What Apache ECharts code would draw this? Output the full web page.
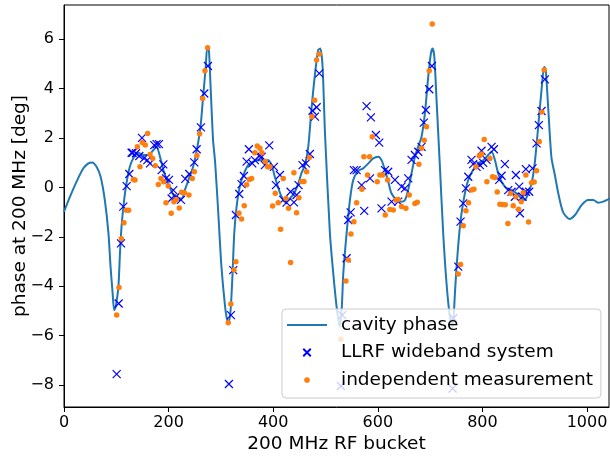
<!DOCTYPE html>
<html>
<head>
<meta charset="utf-8">
<script src="https://cdn.jsdelivr.net/npm/echarts@6/dist/echarts.min.js"></script>
<style>html,body{margin:0;padding:0;background:#fff}#c{width:610px;height:461px}</style>
</head>
<body>
<div id="c"></div>
<script>
// cavity phase curve [bucket, deg]
const cavityPhase = [[0,-0.99],[11.5,-0.38],[24,0.23],[37,0.77],[46.5,0.97],[54,1.01],[62,0.84],[70,0.43],[78,-0.51],[85,-1.86],[89,-3.21],[93,-4.29],[96,-4.97],[99,-4.83],[104,-4.02],[107,-2.67],[110,-1.59],[115,-0.51],[120,0.23],[126,0.84],[134,1.24],[142,1.4],[152,1.31],[161,1.31],[171,1.51],[177,1.64],[183.5,1.24],[190,0.7],[197.5,0.23],[206,-0.18],[215,-0.45],[225,-0.45],[231,-0.11],[238,0.3],[247,0.84],[255,1.64],[261,2.45],[266,3.67],[271,4.88],[274,5.69],[277,5.56],[280,4.21],[285,1.91],[289,1.0],[295,-1.05],[301,-3.21],[308,-4.83],[312,-5.37],[315,-5.44],[318.5,-4.97],[322,-3.62],[325.5,-1.86],[330,-0.78],[336,0.03],[343,0.5],[352,0.9],[362,1.04],[371,1.1],[381,1.1],[390.5,1.1],[397,0.9],[403,0.43],[410,-0.04],[416,-0.38],[422,-0.58],[429,-0.51],[435,-0.38],[441.5,-0.18],[448,0.16],[454,0.57],[460.6,0.9],[467,1.64],[473,3.13],[480,4.61],[486,5.56],[490,5.62],[494.4,4.88],[499,2.18],[508.4,-1.86],[514.8,-3.48],[521.2,-4.83],[527,-5.65],[531,-4.9],[534,-3.48],[540.3,-1.86],[546.7,-0.51],[553,0.3],[562.6,0.67],[572,0.77],[582,0.97],[591,1.17],[601,1.24],[607,1.1],[613.6,0.7],[620,0.23],[626,-0.24],[636,-0.51],[645,-0.58],[652,-0.51],[658,-0.11],[664.5,0.57],[671,1.24],[677,1.64],[683.6,2.05],[690,2.99],[696.4,4.48],[701.5,5.42],[704.7,5.62],[708,5.29],[712.3,3.53],[718.7,0.84],[725,-1.86],[731.4,-3.89],[737.8,-5.24],[743,-5.65],[747.4,-4.29],[750.6,-3.21],[755.7,-1.86],[760,-1.05],[766.5,-0.24],[773,0.3],[782,0.7],[792,0.97],[801.5,1.1],[811,1.31],[817.5,1.44],[824,1.1],[830,0.57],[836.6,0.23],[846,-0.04],[855.7,-0.11],[865,-0.24],[875,-0.45],[881,-0.51],[887.5,-0.24],[894,0.16],[900,0.97],[906.6,2.45],[913,3.94],[918,4.88],[921,4.75],[926,3.13],[932,1.2],[938.5,0.5],[945,-0.24],[954,-0.99],[966,-1.28],[977,-1.12],[989.5,-0.72],[1002,-0.51],[1012,-0.51],[1021,-0.62],[1031,-0.58],[1044,-0.45]];

// LLRF wideband system measurements
const llrf = [[100.7,-7.56],[104.5,-4.70],[109,-2.27],[113.4,-0.78],[119.8,0.05],[124.9,0.54],[129.3,1.40],[131.2,1.40],[137.6,1.38],[144,1.27],[149.1,2.0],[152.9,1.17],[159.3,1.1],[164.4,0.97],[172.6,1.71],[177,1.75],[181.5,1.75],[186.7,0.70],[189.9,0.93],[195,0.36],[200.7,0.3],[209,-0.11],[205.8,-0.45],[214,-0.38],[223.6,-0.51],[231.9,0.34],[239.5,0.54],[249,1.01],[253.6,1.54],[261.8,2.43],[268.2,3.80],[275.2,4.91],
[315.3,-7.96],[319.2,-5.17],[323.6,-3.35],[328.7,-1.12],[335.1,-0.27],[339.5,0.13],[344,0.46],[349.1,1.04],[353.5,1.54],[359.9,0.97],[365,1.1],[373.3,1.27],[377.8,1.24],[384.1,0.90],[392.4,1.70],[401.3,0.83],[405.2,0.09],[412.8,0.5],[419.2,-0.51],[425.5,-0.62],[433.2,-0.18],[439.6,-0.61],[444.7,-0.31],[448.5,0.09],[456.1,0.90],[462.5,0.97],[470.1,1.35],[475.2,3.10],[479.8,2.86],[483,3.24],[488,4.61],
[529.5,-8.04],[532,-5.17],[540.3,-2.87],[543.5,-1.32],[548,-1.01],[554.3,0.70],[559.4,0.70],[569,0.09],[574,-0.95],[585,0.36],[578.5,3.29],[586.8,2.83],[596.4,2.12],[602.7,1.81],[607,-0.85],[613.6,0.70],[619.9,0.63],[626.3,-0.58],[632.7,0.30],[639,-0.58],[645.4,0.03],[651.8,-0.04],[658.2,0.36],[664.5,1.11],[670.9,1.31],[677.3,1.44],[683.6,1.64],[688,2.62],[691.9,3.13],[698.3,3.97],[703.4,4.91],
[742.9,-8.14],[744.2,-5.3],[753.7,-3.21],[758.2,-1.39],[763.3,-0.65],[768.4,-0.04],[772.9,0.43],[779.2,1.11],[782.4,0.94],[788.8,0.83],[795.2,0.90],[801.5,0.99],[807.9,1.11],[817.5,1.64],[821.9,1.54],[798.3,1.48],[832.1,0.30],[836.6,0.47],[842.9,0.94],[849.3,-0.11],[855.7,-0.18],[862,-0.38],[864,0.50],[871.6,-1.05],[870.3,0.03],[876.7,-0.38],[883.1,-0.18],[883.1,0.74],[889.4,-0.18],[895.8,0.77],[903.5,1.78],[907.9,2.52],[913,3.09],[919.4,4.37]];

// independent measurement
const independent = [[100.7,-5.17],[105.1,-4.05],[109.6,-2.08],[114.7,-1.43],[119,-0.93],[123.6,-0.93],[132.5,0.32],[135.7,0.30],[140.2,1.64],[145.3,0.83],[149.7,1.81],[155.4,1.71],[159.9,2.18],[164.4,1.33],[169.5,1.17],[174.6,0.87],[180.3,0.12],[185.4,0.36],[190.5,0.23],[195,-0.62],[199.4,0.05],[205,-1.05],[210.2,-0.58],[214.7,-0.49],[220.4,-0.84],[224.9,-0.20],[230,-0.22],[238.9,-0.31],[245.3,0.36],[249.1,0.63],[254.2,1.29],[259.3,2.17],[265,3.60],[269.5,4.72],[274.6,5.65],
[314,-5.48],[319,-4.72],[324.9,-3.35],[328.7,-3.01],[334.4,-1.05],[339.5,-1.28],[344.6,-0.74],[349.1,0.10],[354.2,0.32],[358.7,0.36],[365,1.40],[369.5,1.67],[374.6,1.58],[378.4,1.40],[384.8,1.05],[389.2,0.83],[393.7,0.83],[398.8,-0.76],[403.9,-0.24],[409.6,-0.62],[414.1,-1.70],[419.2,0.36],[424.3,-0.45],[429.4,-0.85],[433.2,-3.04],[439.6,0.59],[444.7,-1.03],[449.1,-0.42],[454.2,0.24],[458.7,0.24],[463.8,0.63],[469,1.21],[473.9,2.86],[479.1,3.53],[482.9,5.15],[488,5.4],
[529.5,-6.15],[539,-3.79],[543.5,-2.94],[548.6,-1.89],[554.3,-1.39],[559.4,-0.62],[569.6,-0.08],[573.4,1.24],[584.2,1.24],[580.4,0.5],[589.4,2.05],[598.9,0.23],[604,0.5],[609.1,0.5],[618.7,0.3],[614.2,-1.12],[623.1,-0.9],[629.5,-0.92],[634.6,-0.51],[639,-0.49],[645.4,-0.78],[653.7,-0.85],[660.1,-0.31],[670.9,-0.65],[675.4,-0.60],[678.5,0.93],[683.6,1.58],[688.7,1.91],[693.2,2.45],[698.3,4.72],[704,6.61],
[753.7,-3.51],[758.2,-3.12],[763.3,-1.55],[768.4,-0.95],[773.5,-0.62],[779.2,-0.11],[783.7,-0.08],[787.5,0.83],[793.9,1.27],[798.3,1.35],[803.4,1.94],[808.5,0.23],[814.3,1.17],[819.4,0.43],[823.8,0.40],[828.3,-0.19],[833.4,-0.68],[838.5,-0.69],[843.6,-0.70],[848.7,-1.46],[853.8,-0.24],[858.9,-0.74],[864,-0.38],[869.1,-0.89],[874.2,-0.58],[878,-0.22],[883.1,0.50],[888.2,-1.40],[893.9,0.19],[899,0.22],[903.5,0.67],[908.6,1.85],[913.7,3.05],[918.1,4.75]];

const xTicks = [0,200,400,600,800,1000];
const yTicks = [-8,-6,-4,-2,0,2,4,6];
const seriesNames = ['cavity phase','LLRF wideband system','independent measurement'];
const xName = '200 MHz RF bucket';
const yName = 'phase at 200 MHz [deg]';

const FONT = 'DejaVu Sans';
const crossPath = 'path://M0,0L10,10M10,0L0,10';
const lineIcon = 'path://M0,0M40,9M0,3.5L40,3.5L40,5.5L0,5.5Z';
const crossIcon = 'path://M-1,-1M11,11M0,0L10,10M10,0L0,10';
const dotIcon = 'path://M-3,-3M13,13M0,5A5,5,0,1,1,10,5A5,5,0,1,1,0,5Z';

const chart = echarts.init(document.getElementById('c'), null, {renderer:'canvas'});
chart.setOption({
  animation:false,
  backgroundColor:'#fff',
  grid:{left:64,right:1,top:5,bottom:54,outerBoundsMode:'none',containLabel:false,show:true,borderColor:'#000',borderWidth:1,backgroundColor:'transparent'},
  xAxis:{type:'value',min:0,max:1042,
    name:xName,nameLocation:'middle',nameGap:28,nameMoveOverlap:false,nameTextStyle:{fontFamily:FONT,fontSize:18.5,color:'#000'},
    axisLine:{show:true,onZero:false,lineStyle:{color:'#000',width:1}},
    axisTick:{show:true,inside:false,length:5,lineStyle:{color:'#000'},customValues:xTicks},
    axisLabel:{fontFamily:FONT,fontSize:16,color:'#000',margin:8,customValues:xTicks,formatter:v=>String(v)},
    splitLine:{show:false}},
  yAxis:{type:'value',min:-8.89,max:7.38,
    name:yName,nameLocation:'middle',nameGap:34,nameRotate:90,nameMoveOverlap:false,nameTextStyle:{fontFamily:FONT,fontSize:18.5,color:'#000'},
    axisLine:{show:true,onZero:false,lineStyle:{color:'#000',width:1}},
    axisTick:{show:true,inside:false,length:5,lineStyle:{color:'#000'},customValues:yTicks},
    axisLabel:{fontFamily:FONT,fontSize:16,color:'#000',margin:10,customValues:yTicks,
      formatter:v=>String(v).replace('-','\u2212')},
    splitLine:{show:false}},
  legend:{
    left:282,top:309,orient:'vertical',
    itemWidth:40,itemHeight:9,itemGap:7.5,
    padding:[6,8,8,5],
    backgroundColor:'rgba(255,255,255,0.8)',borderColor:'#cccccc',borderWidth:1,borderRadius:4,
    textStyle:{fontFamily:FONT,fontSize:18.5,color:'#000',lineHeight:20,padding:[0,0,0,9]},
    data:[{name:seriesNames[0],icon:lineIcon},{name:seriesNames[1],icon:crossIcon},{name:seriesNames[2],icon:dotIcon}],
    z:10
  },
  series:[
    {name:seriesNames[0],type:'line',data:cavityPhase,symbol:'none',smooth:0.25,
      lineStyle:{color:'#1f77b4',width:2},itemStyle:{color:'#1f77b4'},z:2},
    {name:seriesNames[1],type:'scatter',data:llrf,symbol:crossPath,symbolSize:8,
      itemStyle:{color:'none',borderColor:'#0000ff',borderWidth:1.2,opacity:1},z:3},
    {name:seriesNames[2],type:'scatter',data:independent,symbol:'circle',symbolSize:5.5,
      itemStyle:{color:'#ff7f0e',opacity:1},z:4}
  ]
});
</script>
</body>
</html>
